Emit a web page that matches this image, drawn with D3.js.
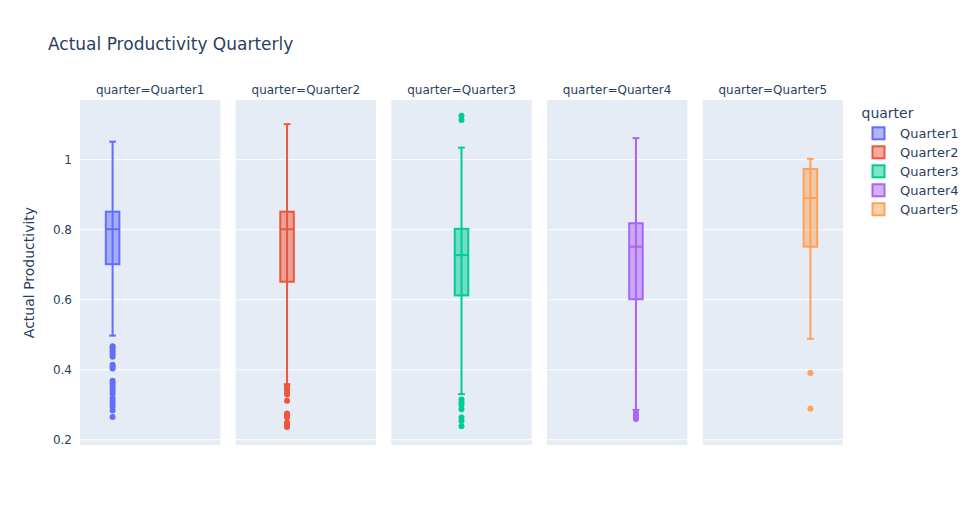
<!DOCTYPE html>
<html>
<head>
<meta charset="utf-8">
<script src="https://cdn.jsdelivr.net/npm/d3@7"></script>
<style>
  body { margin: 0; background: #fff; }
  text { font-family: "DejaVu Sans", verdana, arial, sans-serif; fill: #2a3f5f; }
</style>
</head>
<body>
<svg id="chart"></svg>
<script>
let quarters = ["Quarter1", "Quarter2", "Quarter3", "Quarter4", "Quarter5"]
let colors = ["#636efa", "#EF553B", "#00cc96", "#ab63fa", "#FFA15A"]

// box stats
let lowerFence = [0.496, 0.357, 0.329, 0.284, 0.487]
let q1 = [0.700, 0.650, 0.611, 0.600, 0.750]
let median = [0.800, 0.800, 0.726, 0.750, 0.889]
let q3 = [0.850, 0.850, 0.801, 0.817, 0.972]
let upperFence = [1.050, 1.100, 1.033, 1.060, 1.001]

let outliersQ1 = [0.466, 0.462, 0.456, 0.450, 0.443, 0.436, 0.413, 0.407, 0.402, 0.367, 0.360, 0.352, 0.345, 0.338, 0.330, 0.318, 0.310, 0.302, 0.294, 0.282, 0.264]
let outliersQ2 = [0.352, 0.348, 0.343, 0.335, 0.328, 0.310, 0.274, 0.267, 0.262, 0.247, 0.240, 0.235]
let outliersQ3 = [1.124, 1.112, 0.314, 0.306, 0.298, 0.286, 0.262, 0.252, 0.237]
let outliersQ4 = [0.275, 0.268, 0.262, 0.258]
let outliersQ5 = [0.389, 0.287]
let outliers = [outliersQ1, outliersQ2, outliersQ3, outliersQ4, outliersQ5]

let yTicks = [0.2, 0.4, 0.6, 0.8, 1]

let width = 969
let height = 525
let margin = {top: 100, right: 126, bottom: 80, left: 80}

let svg = d3.select("#chart")
            .attr("width", width)
            .attr("height", height)

let plotW = width - margin.left - margin.right
let gap = plotW * 0.02
let panelW = (plotW - 4 * gap) / 5

let yScale = d3.scaleLinear()
               .domain([0.1837, 1.169])
               .range([height - margin.bottom, margin.top])

let panelScale = d3.scaleBand()
                   .domain(quarters)
                   .range([margin.left, width - margin.right])
                   .paddingInner(gap / (panelW + gap))

// offset of each quarter's box inside a panel (grouped boxes)
let groupScale = d3.scaleBand()
                   .domain(quarters)
                   .range([-47, 47])
                   .paddingInner(0.28)
                   .paddingOuter(0.14)

svg.append("text")
   .attr("x", 48)
   .attr("y", 50)
   .style("font-size", "17px")
   .text("Actual Productivity Quarterly")

quarters.forEach((q, i) => {
  let px = panelScale(q)
  let g = svg.append("g")

  g.append("rect")
   .attr("x", px)
   .attr("y", margin.top)
   .attr("width", panelScale.bandwidth())
   .attr("height", height - margin.top - margin.bottom)
   .attr("fill", "#E5ECF6")

  let axis = d3.axisLeft(yScale)
               .tickValues(yTicks)
               .tickSize(-panelScale.bandwidth())
               .tickFormat(i == 0 ? d3.format("") : "")
  let ax = g.append("g")
            .attr("transform", "translate(" + px + ",0)")
            .call(axis)
  ax.select(".domain").remove()
  ax.selectAll(".tick line").attr("stroke", "#fff").attr("stroke-width", 1)
  ax.selectAll(".tick text")
    .attr("x", -8)
    .style("font-size", "12px")
    .style("fill", "#2a3f5f")
    .style("font-family", '"DejaVu Sans", verdana, arial, sans-serif')

  svg.append("text")
     .attr("x", px + panelScale.bandwidth() / 2)
     .attr("y", 94)
     .attr("text-anchor", "middle")
     .style("font-size", "12px")
     .text("quarter=" + q)

  let cx = px + panelScale.bandwidth() / 2 + groupScale(q) + groupScale.bandwidth() / 2
  let bw = groupScale.bandwidth()
  let col = colors[i]

  // whisker
  g.append("line")
   .attr("x1", cx).attr("x2", cx)
   .attr("y1", yScale(lowerFence[i])).attr("y2", yScale(upperFence[i]))
   .attr("stroke", col).attr("stroke-width", 2)
  ;[lowerFence[i], upperFence[i]].forEach(v => {
    g.append("line")
     .attr("x1", cx - bw / 4).attr("x2", cx + bw / 4)
     .attr("y1", yScale(v)).attr("y2", yScale(v))
     .attr("stroke", col).attr("stroke-width", 2)
  })

  g.append("rect")
   .attr("x", cx - bw / 2)
   .attr("y", yScale(q3[i]))
   .attr("width", bw)
   .attr("height", yScale(q1[i]) - yScale(q3[i]))
   .attr("fill", col)
   .attr("fill-opacity", 0.5)
   .attr("stroke", col)
   .attr("stroke-width", 2)

  g.append("line")
   .attr("x1", cx - bw / 2).attr("x2", cx + bw / 2)
   .attr("y1", yScale(median[i])).attr("y2", yScale(median[i]))
   .attr("stroke", col).attr("stroke-width", 2)

  g.selectAll("circle")
   .data(outliers[i])
   .enter()
   .append("circle")
   .attr("cx", cx)
   .attr("cy", d => yScale(d))
   .attr("r", 3)
   .attr("fill", col)
})

svg.append("text")
   .attr("transform", "translate(34," + ((margin.top + height - margin.bottom) / 2) + ") rotate(-90)")
   .attr("text-anchor", "middle")
   .style("font-size", "14px")
   .text("Actual Productivity")

// legend
let legend = svg.append("g")
legend.append("text")
      .attr("x", 861.5)
      .attr("y", 117.5)
      .style("font-size", "14px")
      .text("quarter")

let legendScale = d3.scalePoint()
                    .domain(quarters)
                    .range([133.3, 133.3 + 19 * 4])

quarters.forEach((q, i) => {
  let ly = legendScale(q)
  legend.append("rect")
        .attr("x", 872.5)
        .attr("y", ly - 6)
        .attr("width", 12)
        .attr("height", 12)
        .attr("fill", colors[i])
        .attr("fill-opacity", 0.5)
        .attr("stroke", colors[i])
        .attr("stroke-width", 2)
  legend.append("text")
        .attr("x", 900)
        .attr("y", ly + 4.5)
        .style("font-size", "13px")
        .text(q)
})
</script>
</body>
</html>
